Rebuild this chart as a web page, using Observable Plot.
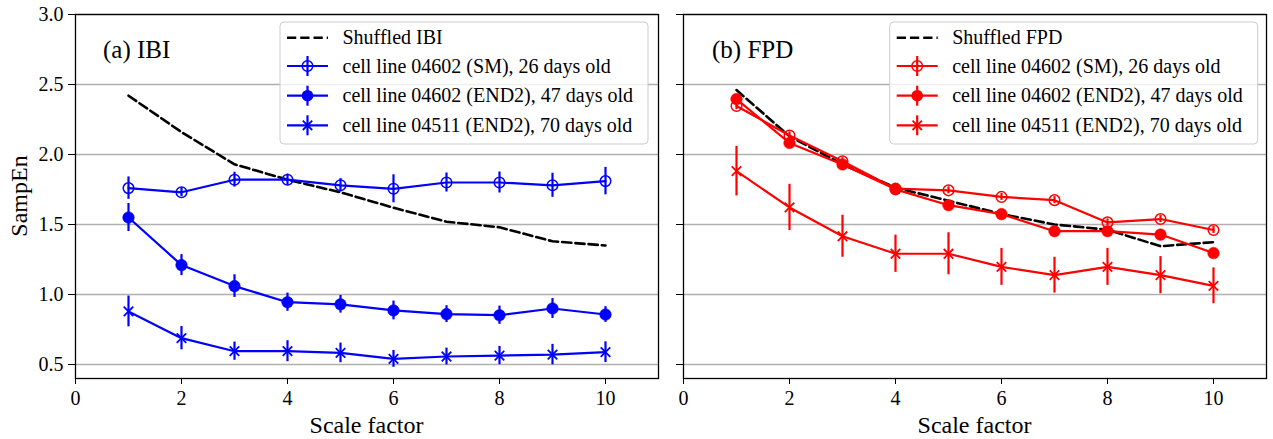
<!DOCTYPE html>
<html>
<head>
<meta charset="utf-8">
<script src="https://cdn.jsdelivr.net/npm/d3@7"></script>
<script src="https://cdn.jsdelivr.net/npm/@observablehq/plot@0.6"></script>
<style>
  html, body { margin: 0; padding: 0; background: white; }
  #wrap { display: flex; width: 1273px; height: 439px; }
</style>
</head>
<body>
<div id="wrap"></div>
<script>
// ---------- data ----------
const scaleFactors = [1, 2, 3, 4, 5, 6, 7, 8, 9, 10];
const xTicks = [0, 2, 4, 6, 8, 10];
const yTicks = [0.5, 1.0, 1.5, 2.0, 2.5, 3.0];

const seriesLabels = [
  "cell line 04602 (SM), 26 days old",
  "cell line 04602 (END2), 47 days old",
  "cell line 04511 (END2), 70 days old"
];

// (a) IBI
const ibiShuffled = [2.42, 2.16, 1.93, 1.82, 1.73, 1.62, 1.52, 1.48, 1.38, 1.35];
const ibiSM26     = [1.76, 1.73, 1.82, 1.82, 1.78, 1.755, 1.80, 1.80, 1.78, 1.81];
const ibiSM26Err  = [0.08, 0.03, 0.053, 0.04, 0.048, 0.10, 0.068, 0.075, 0.086, 0.098];
const ibiEND47    = [1.55, 1.21, 1.06, 0.945, 0.93, 0.886, 0.86, 0.852, 0.90, 0.857];
const ibiEND47Err = [0.10, 0.075, 0.081, 0.065, 0.063, 0.067, 0.06, 0.065, 0.071, 0.056];
const ibiEND70    = [0.879, 0.688, 0.595, 0.595, 0.583, 0.54, 0.557, 0.564, 0.571, 0.588];
const ibiEND70Err = [0.11, 0.083, 0.065, 0.075, 0.07, 0.06, 0.06, 0.065, 0.073, 0.074];

// (b) FPD
const fpdShuffled = [2.46, 2.13, 1.93, 1.763, 1.67, 1.575, 1.50, 1.463, 1.345, 1.374];
const fpdSM26     = [2.346, 2.136, 1.952, 1.756, 1.744, 1.697, 1.674, 1.515, 1.539, 1.461];
const fpdSM26Err  = [0.025, 0.025, 0.025, 0.025, 0.025, 0.025, 0.025, 0.025, 0.025, 0.025];
const fpdEND47    = [2.396, 2.082, 1.929, 1.751, 1.638, 1.574, 1.452, 1.452, 1.428, 1.296];
const fpdEND47Err = [0.02, 0.02, 0.02, 0.02, 0.02, 0.02, 0.02, 0.02, 0.02, 0.02];
const fpdEND70    = [1.881, 1.622, 1.416, 1.291, 1.291, 1.197, 1.138, 1.197, 1.138, 1.062];
const fpdEND70Err = [0.177, 0.165, 0.15, 0.133, 0.15, 0.132, 0.128, 0.132, 0.133, 0.128];

// ---------- helpers ----------
const FONT = "'Liberation Serif', 'Times New Roman', serif";
const rows = (ys, es) => scaleFactors.map((x, i) => ({x, y: ys[i], e: es ? es[i] : 0}));

function seriesMarks(data, color, kind) {
  const m = [
    Plot.line(data, {x: "x", y: "y", stroke: color, strokeWidth: 2.2}),
    Plot.ruleX(data, {x: "x", y1: d => d.y - d.e, y2: d => d.y + d.e, stroke: color, strokeWidth: 2.2})
  ];
  if (kind === "open") m.push(Plot.dot(data, {x: "x", y: "y", r: 5.3, fill: "none", stroke: color, strokeWidth: 1.5}));
  if (kind === "filled") m.push(Plot.dot(data, {x: "x", y: "y", r: 5.8, fill: color, stroke: color, strokeWidth: 0.5}));
  if (kind === "x") m.push(Plot.dot(data, {x: "x", y: "y", r: 4.4, symbol: "times", stroke: color, strokeWidth: 1.8}));
  return m;
}

function panel(cfg) {
  const {width, ml, mr, mt, mb, color, shuffled, s1, s1e, s2, s2e, s3, s3e, showYLabels} = cfg;
  return Plot.plot({
    width, height: 439,
    marginLeft: ml, marginRight: mr, marginTop: mt, marginBottom: mb,
    style: {fontFamily: FONT, fontSize: "20px", background: "white", overflow: "visible"},
    x: {domain: [0, 11]},
    y: {domain: [0.4, 3.0]},
    marks: [
      Plot.gridY(yTicks, {stroke: "#b0b0b0", strokeOpacity: 1, strokeWidth: 1.4}),
      Plot.axisY(yTicks, {tickSize: 7, tickPadding: 5, label: null, fontSize: 20,
        tickFormat: showYLabels ? d3.format(".1f") : () => ""}),
      Plot.axisX(xTicks, {tickSize: 6, tickPadding: 6, label: null, fontSize: 20}),
      Plot.line(rows(shuffled), {x: "x", y: "y", stroke: "black", strokeWidth: 2.6, strokeDasharray: "9.25,4"}),
      ...seriesMarks(rows(s1, s1e), color, "open"),
      ...seriesMarks(rows(s2, s2e), color, "filled"),
      ...seriesMarks(rows(s3, s3e), color, "x"),
      Plot.frame({stroke: "black", strokeWidth: 1.3})
    ]
  });
}

function decorate(svg, cfg) {
  const g = d3.select(svg).append("g").attr("font-family", FONT).attr("text-anchor", "start");
  const {width, ml, mr, color, title, titleX, legX, legendFirst, showYLabels} = cfg;
  // panel title
  g.append("text").attr("x", titleX).attr("y", 57.5).attr("font-size", 25)
    .attr("text-anchor", "start").attr("fill", "black").text(title);
  // x axis label
  g.append("text").attr("x", (ml + width - mr) / 2).attr("y", 433).attr("text-anchor", "middle")
    .attr("font-size", 24).attr("fill", "black").text("Scale factor");
  if (showYLabels) {
    g.append("text").attr("transform", "translate(27,196) rotate(-90)").attr("text-anchor", "middle")
      .attr("font-size", 24).attr("fill", "black").text("SampEn");
  }
  // legend
  const lg = g.append("g");
  lg.append("rect").attr("x", legX).attr("y", 22).attr("width", 368).attr("height", 122).attr("rx", 4)
    .attr("fill", "white").attr("fill-opacity", 0.8).attr("stroke", "#cccccc").attr("stroke-width", 1);
  const rowY = [37.7, 66, 95.7, 125.3];
  const sx1 = legX + 7, sx2 = legX + 48, cx = (sx1 + sx2) / 2, tx = legX + 62.5;
  const labels = [legendFirst, ...seriesLabels];
  labels.forEach((lab, i) => {
    const y = rowY[i];
    if (i === 0) {
      lg.append("line").attr("x1", sx1).attr("x2", sx2).attr("y1", y).attr("y2", y)
        .attr("stroke", "black").attr("stroke-width", 2.6).attr("stroke-dasharray", "9.25,4");
    } else {
      lg.append("line").attr("x1", sx1).attr("x2", sx2).attr("y1", y).attr("y2", y)
        .attr("stroke", color).attr("stroke-width", 2.2);
      lg.append("line").attr("x1", cx).attr("x2", cx).attr("y1", y - 10).attr("y2", y + 10)
        .attr("stroke", color).attr("stroke-width", 2.2);
      if (i === 1) lg.append("circle").attr("cx", cx).attr("cy", y).attr("r", 5.3)
        .attr("fill", "none").attr("stroke", color).attr("stroke-width", 1.5);
      if (i === 2) lg.append("circle").attr("cx", cx).attr("cy", y).attr("r", 5.8).attr("fill", color);
      if (i === 3) {
        const a = 4.7;
        lg.append("path").attr("d", `M${cx - a},${y - a}L${cx + a},${y + a}M${cx - a},${y + a}L${cx + a},${y - a}`)
          .attr("stroke", color).attr("stroke-width", 1.8).attr("fill", "none");
      }
    }
    lg.append("text").attr("x", tx).attr("y", y + 6.7).attr("font-size", 20)
      .attr("text-anchor", "start").attr("fill", "black").text(lab);
  });
}

const wrap = document.getElementById("wrap");

const leftCfg = {
  width: 660, ml: 75, mr: 2, mt: 14, mb: 61, color: "#0000ff",
  shuffled: ibiShuffled, s1: ibiSM26, s1e: ibiSM26Err, s2: ibiEND47, s2e: ibiEND47Err, s3: ibiEND70, s3e: ibiEND70Err,
  showYLabels: true, title: "(a) IBI", titleX: 103, legX: 280, legendFirst: "Shuffled IBI"
};
const rightCfg = {
  width: 613, ml: 23, mr: 7, mt: 14, mb: 61, color: "#ff0000",
  shuffled: fpdShuffled, s1: fpdSM26, s1e: fpdSM26Err, s2: fpdEND47, s2e: fpdEND47Err, s3: fpdEND70, s3e: fpdEND70Err,
  showYLabels: false, title: "(b) FPD", titleX: 52, legX: 229.7, legendFirst: "Shuffled FPD"
};

for (const cfg of [leftCfg, rightCfg]) {
  const svg = panel(cfg);
  decorate(svg, cfg);
  wrap.appendChild(svg);
}
</script>
</body>
</html>
